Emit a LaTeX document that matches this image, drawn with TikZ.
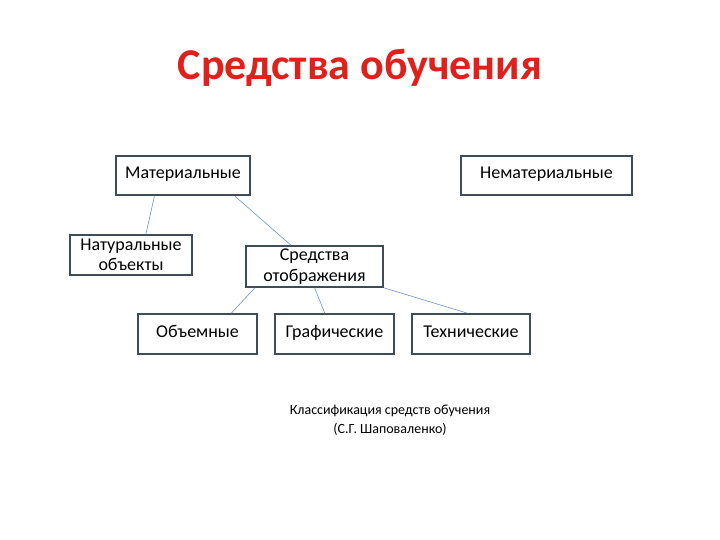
\documentclass[tikz,border=0pt]{standalone}
\usepackage{fontspec}
\setmainfont{Carlito}
\usetikzlibrary{calc,positioning}

\begin{document}
\begin{tikzpicture}[x=1pt,y=-1pt,
box/.style={rectangle, draw=boxline, line width=1.6pt, fill=white, inner sep=1pt, align=center, font=\fontsize{18}{20.5}\selectfont},
single/.style={text height=11pt, text depth=4pt},
edge/.style={draw=edgeblue, line width=0.6pt},
info/.style={draw=none,fill=none,inner sep=0pt, align=center}]

\definecolor{boxline}{HTML}{3F4D58}
\definecolor{edgeblue}{HTML}{6A94C6}
\definecolor{titlered}{HTML}{E0201B}

%% page frame
\useasboundingbox (0,0) rectangle (720,540);

%% title
\node[info, text=titlered, font=\fontsize{44}{46}\selectfont\bfseries] (title) at (360,68) {Средства обучения};

%% top level
\node[box, single, minimum width=134pt, minimum height=39pt] (mat) at (183,175.5) {Материальные};
\node[box, single, minimum width=171pt, minimum height=39pt] (nemat) at (546.5,175.5) {Нематериальные};

%% second level
\node[box, minimum width=122pt, minimum height=40pt] (nat) at (131,255) {Натуральные\\объекты};
\node[box, minimum width=137pt, minimum height=41pt] (otobr) at (314.5,266.5) {Средства\\отображения};

%% third level
\node[box, single, minimum width=119pt, minimum height=40pt] (obem) at (197.5,334) {Объемные};
\node[box, single, minimum width=119pt, minimum height=40pt] (graf) at (334.5,334) {Графические};
\node[box, single, minimum width=118pt, minimum height=40pt] (tech) at (471,334) {Технические};

%% caption
\node[info, font=\fontsize{14}{19}\selectfont] (caption) at (390,420) {Классификация средств обучения\\(С.Г. Шаповаленко)};

%% connectors
\draw[edge] ($(mat.south west)!0.29!(mat.south east)$) -- ($(nat.north west)!0.62!(nat.north east)$);
\draw[edge] ($(mat.south west)!0.88!(mat.south east)$) -- ($(otobr.north west)!0.33!(otobr.north east)$);
\draw[edge] ($(otobr.south west)!0.07!(otobr.south east)$) -- ($(obem.north west)!0.78!(obem.north east)$);
\draw[edge] ($(otobr.south west)!0.5!(otobr.south east)$) -- ($(graf.north west)!0.42!(graf.north east)$);
\draw[edge] (otobr.south east) -- ($(tech.north west)!0.47!(tech.north east)$);

\end{tikzpicture}
\end{document}
